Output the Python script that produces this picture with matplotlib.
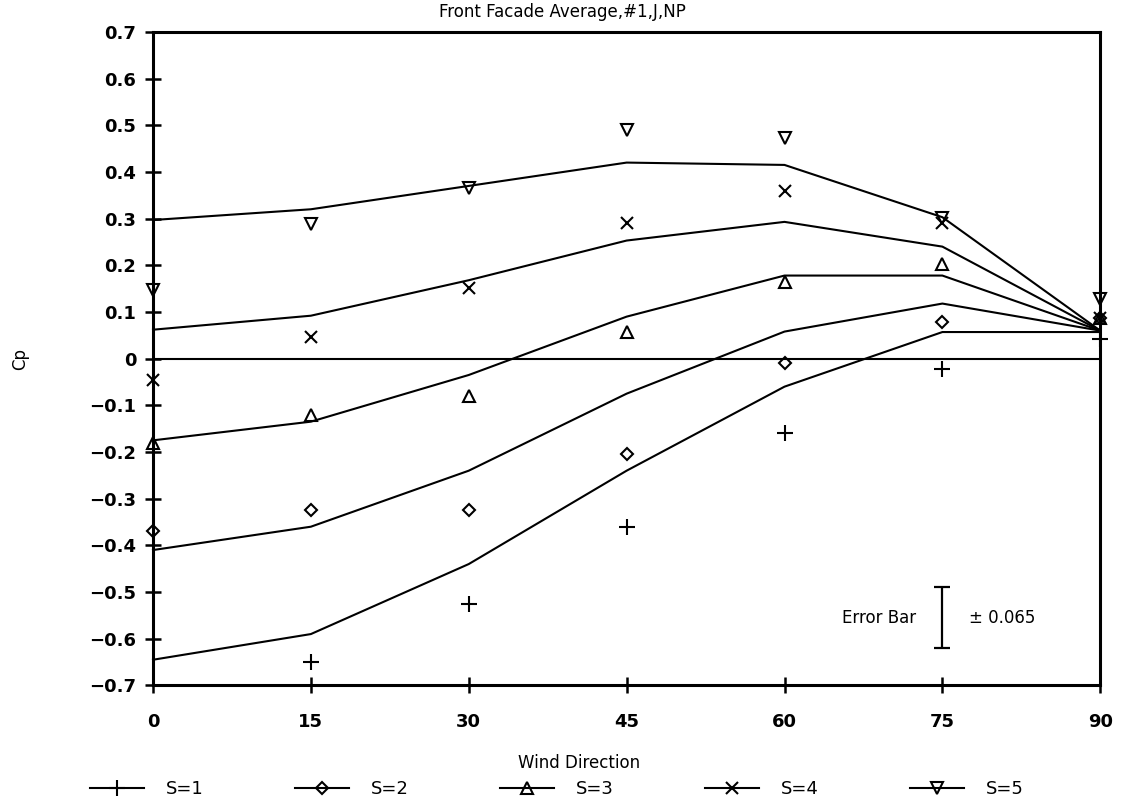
import numpy as np
import matplotlib
matplotlib.use("Agg")
import matplotlib.pyplot as plt
from matplotlib.lines import Line2D

# wind direction (deg)
wind_dir = [0, 15, 30, 45, 60, 75, 90]
series_names = ["S=1", "S=2", "S=3", "S=4", "S=5"]

# measured Cp (markers)
cp_s1 = [np.nan, -0.65, -0.525, -0.36, -0.16, -0.022, 0.042]
cp_s2 = [-0.37, -0.325, -0.325, -0.205, -0.01, 0.078, 0.088]
cp_s3 = [-0.18, -0.12, -0.08, 0.058, 0.165, 0.202, 0.088]
cp_s4 = [-0.045, 0.047, 0.152, 0.29, 0.36, 0.29, 0.088]
cp_s5 = [0.147, 0.288, 0.365, 0.49, 0.472, 0.302, 0.127]

# fitted curves (lines)
fit_s1 = [-0.645, -0.59, -0.44, -0.24, -0.06, 0.057, 0.057]
fit_s2 = [-0.41, -0.36, -0.24, -0.075, 0.058, 0.118, 0.06]
fit_s3 = [-0.175, -0.135, -0.035, 0.09, 0.178, 0.178, 0.06]
fit_s4 = [0.062, 0.092, 0.168, 0.253, 0.293, 0.24, 0.06]
fit_s5 = [0.297, 0.32, 0.37, 0.42, 0.415, 0.303, 0.06]

err_x = 75
err_y = -0.555
err_half = 0.065

cp_all = [cp_s1, cp_s2, cp_s3, cp_s4, cp_s5]
fit_all = [fit_s1, fit_s2, fit_s3, fit_s4, fit_s5]
markers = ["+", "D", "^", "x", "v"]
msizes = [11, 6, 8, 9, 8]

plt.rcParams["font.family"] = ["DejaVu Sans"]

fig = plt.figure(figsize=(11.25, 7.97), dpi=100)
ax = fig.add_axes([0.136, 0.140, 0.842, 0.820])

for cp, fit, m, ms in zip(cp_all, fit_all, markers, msizes):
    ax.plot(wind_dir, fit, color="black", lw=1.5, clip_on=False, zorder=2)
    ax.plot(wind_dir, cp, linestyle="none", marker=m, ms=ms, mfc="none",
            mec="black", mew=1.5, clip_on=False, zorder=3)

ax.axhline(0, color="black", lw=1.5, zorder=1)

# error bar indicator
ax.errorbar([err_x], [err_y], yerr=[err_half], fmt="none", ecolor="black",
            elinewidth=1.6, capsize=6, capthick=1.6)
ax.text(err_x - 2.5, err_y, "Error Bar", ha="right", va="center", fontsize=12)
ax.text(err_x + 2.5, err_y, "± 0.065", ha="left", va="center", fontsize=12)

ax.set_xlim(0, 90)
ax.set_ylim(-0.7, 0.7)
ax.set_xticks(wind_dir)
yt = np.round(np.arange(-0.7, 0.71, 0.1), 1)
ax.set_yticks(yt)
ax.set_yticklabels(["0" if abs(v) < 1e-9 else f"{v:.1f}".replace("-", "\u2212")
                    for v in yt])
ax.tick_params(axis="both", direction="inout", length=12, width=1.8,
               labelsize=13, pad=6)
ax.tick_params(axis="x", pad=14)
for lab in ax.get_xticklabels() + ax.get_yticklabels():
    lab.set_fontweight("bold")
for sp in ax.spines.values():
    sp.set_linewidth(2.2)

fig.text(0.018, 0.55, "Cp", rotation=90, ha="center", va="center", fontsize=12)
fig.text(0.50, 0.985, "Front Facade Average,#1,J,NP", ha="center", va="center",
         fontsize=12)
fig.text(0.515, 0.043, "Wind Direction", ha="center", va="center", fontsize=12)

handles = [Line2D([], [], color="black", lw=1.5, marker=m, ms=ms, mfc="none",
                  mec="black", mew=1.5) for m, ms in zip(markers, msizes)]
fig.legend(handles, series_names, loc="lower center", ncol=5, frameon=False,
           bbox_to_anchor=(0.495, -0.022), fontsize=13, handlelength=3.0,
           columnspacing=5.05, handletextpad=1.2)

fig.savefig("out.png", dpi=100)
